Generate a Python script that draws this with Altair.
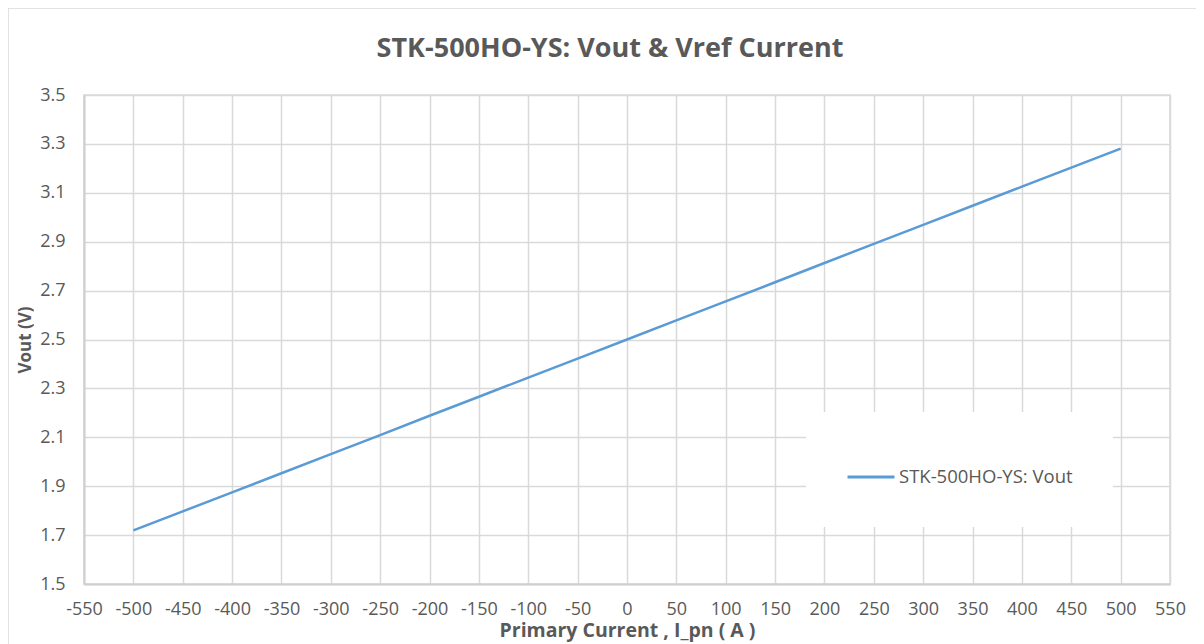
import altair as alt
import pandas as pd

# --- data (one point every 50 A) ---
current = [-500, -450, -400, -350, -300, -250, -200, -150, -100, -50, 0,
           50, 100, 150, 200, 250, 300, 350, 400, 450, 500]
vout = [1.719, 1.797, 1.875, 1.953, 2.031, 2.109, 2.188, 2.266, 2.344, 2.422,
        2.500, 2.578, 2.656, 2.734, 2.813, 2.891, 2.969, 3.047, 3.125, 3.203,
        3.281]
series_name = "STK-500HO-YS: Vout"
x_ticks = [-550, -500, -450, -400, -350, -300, -250, -200, -150, -100, -50,
           0, 50, 100, 150, 200, 250, 300, 350, 400, 450, 500, 550]
y_ticks = [1.5, 1.7, 1.9, 2.1, 2.3, 2.5, 2.7, 2.9, 3.1, 3.3, 3.5]

df = pd.DataFrame({"current": current, "vout": vout, "series": series_name})

FONT = "Open Sans"
TXT = "#595959"
GRID = "#d9d9d9"

line = alt.Chart(df).mark_line(strokeWidth=2.5).encode(
    x=alt.X("current:Q",
            scale=alt.Scale(domain=[-550, 550], nice=False, zero=False),
            axis=alt.Axis(values=x_ticks, title="Primary Current , I_pn ( A )",
                          labelExpr="replace(datum.label, '\u2212', '-')",
                          labelFlush=False, labelOverlap=False,
                          labelPadding=16, titlePadding=3,
                          titleFontSize=19.5)),
    y=alt.Y("vout:Q",
            scale=alt.Scale(domain=[1.5, 3.5], nice=False, zero=False),
            axis=alt.Axis(values=y_ticks, format=".1f", title="Vout (V)",
                          labelFlush=False, labelOverlap=False,
                          labelPadding=19, titlePadding=5,
                          titleFontSize=17)),
    color=alt.Color("series:N",
                    scale=alt.Scale(range=["#5B9BD5"]),
                    legend=alt.Legend(title=None, orient="none",
                                      legendX=722, legendY=317,
                                      fillColor="white", padding=40,
                                      symbolType="stroke", symbolSize=2209,
                                      symbolStrokeWidth=3,
                                      labelFontSize=18.5, labelColor=TXT,
                                      labelFont=FONT, labelOffset=3,
                                      labelLimit=400)),
)

border_top = alt.Chart().mark_rule(color=GRID, strokeWidth=1.5).encode(
    x=alt.value(-76), x2=alt.value(1120), y=alt.value(-87))
border_left = alt.Chart().mark_rule(color=GRID, strokeWidth=1.5).encode(
    x=alt.value(-76), y=alt.value(-87), y2=alt.value(560))

chart = alt.layer(border_top, border_left, line).properties(
    width=1086, height=489,
    autosize=alt.AutoSizeParams(type="none"),
    padding={"left": 76, "top": 87, "right": 26, "bottom": 60},
    title=alt.TitleParams("STK-500HO-YS: Vout & Vref Current", fontSize=27,
                          font=FONT, fontWeight="bold", color=TXT,
                          anchor="middle", dx=-17, offset=-56),
).configure_axis(
    labelFont=FONT, labelFontSize=18, labelColor=TXT,
    titleFont=FONT, titleFontWeight="bold", titleColor=TXT,
    gridColor=GRID, gridWidth=1.5, domainColor="#cfcfcf", domainWidth=2,
    ticks=False,
).configure_view(stroke=GRID, strokeWidth=1.5)

chart.save("out.html", embed_options={"renderer": "svg", "actions": False})
